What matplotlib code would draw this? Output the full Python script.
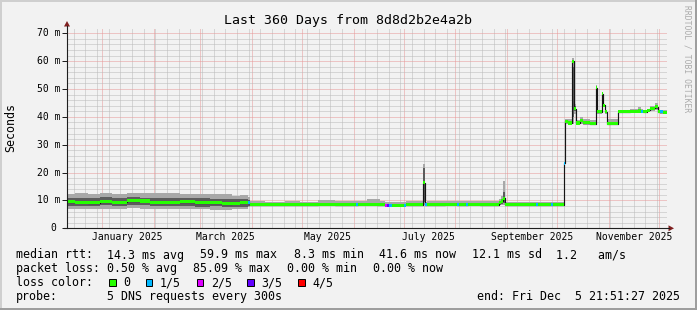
import numpy as np
import matplotlib
matplotlib.use("Agg")
import matplotlib.pyplot as plt
import matplotlib.dates as mdates
import matplotlib.transforms as mtransforms
from matplotlib.ticker import MultipleLocator
from matplotlib.patches import Rectangle, Polygon
from matplotlib.lines import Line2D

plt.rcParams['font.family'] = ['DejaVu Sans Mono']

# ---- data ----
START = np.datetime64("2024-12-10T21:51:27")
SPAN_DAYS = 360

# start of each consolidated step, in days into the 360 day window
seg_day = [
    0.0, 4.8, 12.6, 19.8, 27.0, 36.0, 43.8, 49.8, 58.8, 67.8, 76.8, 85.8, 93.0, 99.0, 103.8, 108.6,
    109.8, 118.8, 130.8, 139.8, 150.6, 160.8, 173.4, 174.6, 180.0, 186.0, 187.8, 190.8, 192.0, 193.2,
    195.0, 202.2, 203.4, 213.6, 215.0, 216.0, 226.8, 234.0, 235.2, 239.4, 240.6, 247.8, 259.2, 260.4,
    261.4, 263.0, 271.8, 281.4, 282.6, 290.4, 291.6, 298.0,
    299.0, 300.6, 303.0, 304.0, 305.2, 307.8, 309.6, 313.8, 317.2, 318.2, 320.8, 321.8, 322.8, 324.2,
    327.0, 330.8, 337.8, 342.6, 344.4, 345.6, 348.0, 349.8, 352.8, 354.8, 355.8, 357.8,
]
# median rtt (ms)
med = [
    9.6, 9.4, 9.2, 9.5, 9.4, 9.9, 9.8, 9.4, 9.3, 9.5, 9.1, 9.2, 8.9, 9.0, 9.3, 9.2,
    8.5, 8.4, 8.5, 8.4, 8.6, 8.5, 8.5, 8.6, 8.7, 8.5, 8.4, 8.2, 8.2, 8.3,
    8.2, 8.3, 8.4, 16.4, 8.5, 8.5, 8.6, 8.5, 8.5, 8.5, 8.6, 8.5, 9.3, 9.8,
    10.8, 8.5, 8.4, 8.4, 8.4, 8.4, 8.4, 23.3,
    38.5, 37.8, 60.0, 43.0, 37.8, 38.6, 37.9, 37.6, 50.4, 41.8, 48.3, 44.2, 41.9, 37.5,
    37.6, 41.9, 42.0, 42.1, 42.0, 41.9, 42.3, 43.1, 43.7, 41.9, 41.8, 41.6,
]
# inner smoke (dark)
in_lo = [
    8.1, 8.0, 8.1, 8.2, 8.0, 8.3, 8.2, 8.0, 7.9, 8.0, 7.8, 7.9, 7.7, 7.8, 7.8, 8.0,
    8.1, 8.0, 8.1, 8.0, 8.2, 8.1, 8.1, 8.2, 8.2, 8.1, 8.0, 7.9, 7.9, 7.9,
    7.9, 7.9, 8.0, 9.5, 8.1, 8.1, 8.2, 8.1, 8.1, 8.1, 8.2, 8.1, 8.5, 8.8,
    9.0, 8.1, 8.0, 8.0, 8.0, 8.0, 8.0, 23.0,
    38.0, 37.3, 40.0, 42.2, 37.3, 38.0, 37.4, 37.2, 46.0, 41.3, 44.0, 43.8, 41.5, 37.1,
    37.2, 41.5, 41.6, 41.6, 41.6, 41.5, 41.9, 42.6, 43.0, 41.5, 41.4, 41.3,
]
in_hi = [
    11.0, 10.9, 10.8, 11.1, 10.9, 11.1, 11.0, 10.8, 10.9, 11.0, 10.7, 10.6, 10.5, 10.4, 10.6, 10.2,
    9.0, 8.9, 9.0, 8.9, 9.1, 9.0, 9.0, 9.1, 9.2, 9.0, 8.9, 8.7, 8.7, 8.8,
    8.7, 8.8, 8.9, 21.5, 9.0, 9.0, 9.1, 9.0, 9.0, 9.0, 9.1, 9.0, 9.8, 10.6,
    13.0, 9.0, 8.9, 8.9, 8.9, 8.9, 8.9, 23.6,
    39.0, 38.4, 58.0, 43.8, 38.4, 39.2, 38.5, 38.2, 51.0, 42.3, 48.5, 44.6, 42.3, 38.1,
    38.2, 42.3, 42.4, 42.6, 42.4, 42.3, 42.7, 43.5, 44.3, 42.3, 42.2, 42.0,
]
# outer smoke (light)
out_lo = [
    6.9, 6.8, 7.0, 7.1, 6.9, 7.2, 7.0, 6.9, 6.8, 7.0, 6.8, 6.7, 6.7, 7.0, 7.1, 7.5,
    8.0, 7.9, 8.0, 7.9, 8.0, 8.0, 8.0, 8.0, 8.0, 8.0, 7.9, 7.8, 7.8, 7.8,
    7.8, 7.8, 7.9, 8.3, 8.0, 8.0, 8.0, 8.0, 8.0, 8.0, 8.0, 8.0, 8.2, 8.3,
    8.3, 8.0, 7.9, 7.9, 7.9, 7.9, 7.9, 22.9,
    37.5, 37.0, 37.5, 41.2, 37.1, 37.6, 37.2, 37.0, 40.0, 41.0, 42.0, 43.5, 41.2, 37.0,
    37.0, 41.3, 41.4, 41.4, 41.4, 41.3, 41.6, 42.2, 42.6, 41.3, 41.2, 41.2,
]
out_hi = [
    12.4, 12.6, 12.3, 12.8, 12.3, 12.5, 12.7, 12.5, 12.6, 12.4, 12.3, 12.4, 12.2, 11.7, 11.8, 11.4,
    9.7, 9.5, 9.8, 9.6, 10.0, 9.7, 9.7, 9.9, 10.5, 10.4, 9.7, 9.6, 9.6, 9.6,
    9.6, 9.6, 9.7, 23.2, 9.6, 9.8, 9.8, 9.7, 9.9, 9.8, 9.9, 9.7, 10.4, 11.5,
    17.0, 9.6, 9.4, 9.4, 9.5, 9.4, 9.5, 23.7,
    39.3, 39.1, 61.0, 44.6, 39.0, 39.8, 39.3, 38.9, 51.4, 42.6, 48.8, 44.8, 42.6, 39.2,
    39.4, 42.5, 42.9, 43.4, 43.0, 42.6, 42.9, 43.8, 45.1, 42.6, 42.5, 42.4,
]
# lost pings out of 5
loss = [
    0, 0, 0, 0, 0, 0, 0, 0, 0, 0, 0, 0, 0, 0, 0, 1,
    0, 0, 0, 0, 0, 0, 1, 0, 0, 0, 0, 2, 3, 1,
    0, 1, 0, 0, 1, 0, 0, 1, 0, 1, 0, 0, 0, 0,
    0, 0, 0, 1, 0, 1, 0, 1,
    0, 0, 0, 0, 0, 0, 0, 0, 0, 0, 0, 0, 0, 0,
    0, 0, 0, 0, 1, 0, 0, 0, 0, 0, 1, 0,
]

loss_labels = ["0", "1/5", "2/5", "3/5", "4/5"]
loss_colors = ["#26ff00", "#00b8ff", "#dd00ff", "#6200ff", "#ff0000"]

y_ticks = [0, 10, 20, 30, 40, 50, 60, 70]
y_labels = ["0", "10 m", "20 m", "30 m", "40 m", "50 m", "60 m", "70 m"]
x_label_dates = ["2025-01-16", "2025-03-16", "2025-05-16", "2025-07-16", "2025-09-16", "2025-11-16"]
x_labels = ["January 2025", "March 2025", "May 2025", "July 2025", "September 2025", "November 2025"]

# ---- figure layout in pixels ----
W, H, DPI = 697, 310, 100
BACK = "#f2f2f2"


def fx(px):
    return px / W


def fy(py):
    return 1 - py / H


def to_num(days):
    t = START + (np.asarray(days) * 86400).astype("timedelta64[s]")
    return mdates.date2num(t)


def ext(v):
    return np.append(v, v[-1])


fig = plt.figure(figsize=(W / DPI, H / DPI), dpi=DPI, facecolor=BACK)
ax = fig.add_axes([fx(67), fy(228.3), 600 / W, 200 / H])
ax.set_facecolor(BACK)

edges = to_num(seg_day + [SPAN_DAYS])
med_a = np.array(med)

# smoke
ax.fill_between(edges, ext(out_lo), ext(out_hi), step="post", color="#a8a8a8", lw=0, zorder=2)
ax.fill_between(edges, ext(in_lo), ext(in_hi), step="post", color="#5c5c5c", lw=0, zorder=3)
# median line + loss coloured median
ax.step(edges, ext(med_a), where="post", color="#151515", lw=0.85, zorder=4)
half = 0.55
ax.bar(edges[:-1], 2 * half, width=np.diff(edges), bottom=med_a - half, align="edge",
       color=[loss_colors[i] for i in loss], linewidth=0, zorder=5)

ax.set_xlim(edges[0], edges[-1])
ax.set_ylim(0, 71.8)

ax.xaxis.set_major_locator(mdates.MonthLocator())
ax.xaxis.set_minor_locator(mdates.WeekdayLocator(byweekday=mdates.SU))
ax.yaxis.set_major_locator(MultipleLocator(10))
ax.yaxis.set_minor_locator(MultipleLocator(2))
ax.set_axisbelow(True)
ax.grid(which="minor", color="#bababa", lw=0.72, ls=(0, (1, 1)), snap=True)
ax.grid(which="major", color="#e89898", lw=0.72, ls=(0, (1, 1)), snap=True)
ax.tick_params(which="both", length=0, labelbottom=False, labelleft=False)
ax.tick_params(axis="y", which="major", length=3.6, width=0.72, color="#1f1f1f", direction="out")
for s in ax.spines.values():
    s.set_visible(False)

# axis lines with arrows
fig.add_artist(Line2D([fx(67), fx(67)], [fy(228.3), fy(26)], color="#1f1f1f", lw=0.8))
fig.add_artist(Line2D([fx(64), fx(669)], [fy(228.3), fy(228.3)], color="#1f1f1f", lw=0.8))
fig.add_artist(Polygon([[fx(67), fy(21)], [fx(64), fy(26.5)], [fx(70), fy(26.5)]],
                       closed=True, color="#7f1f1f", lw=0))
fig.add_artist(Polygon([[fx(674), fy(228.3)], [fx(668.5), fy(225.3)], [fx(668.5), fy(231.3)]],
                       closed=True, color="#7f1f1f", lw=0))

# tick labels
xlab_tr = mtransforms.offset_copy(ax.get_xaxis_transform(), fig=fig, x=0, y=-12.2, units="dots")
for d, lab in zip(x_label_dates, x_labels):
    ax.text(mdates.date2num(np.datetime64(d)), 0, lab, transform=xlab_tr,
            ha="center", va="baseline", fontsize=7.05, clip_on=False)
for v, lab in zip(y_ticks, y_labels):
    off = -11 if lab == "0" else -6.3
    tr = mtransforms.offset_copy(ax.get_yaxis_transform(), fig=fig, x=off, y=-3.0, units="dots")
    ax.text(0, v, lab, transform=tr, ha="right", va="baseline", fontsize=7.05, clip_on=False)

# titles
fig.text(fx(348.5), fy(24), "Last 360 Days from 8d8d2b2e4a2b", ha="center", va="baseline", fontsize=9.5)
fig.text(fx(11), fy(128), "Seconds", rotation=90, ha="center", va="center", fontsize=8.4)
fig.text(fx(687.5), fy(58.5), "RRDTOOL / TOBI OETIKER", rotation=270, ha="center", va="center",
         fontsize=5.8, color="#ababab")

# legend block
LS = 8.4
row1 = [(16, "median rtt:"), (107, "14.3 ms avg"), (200, "59.9 ms max"), (294, "8.3 ms min"),
        (379, "41.6 ms now"), (472, "12.1 ms sd"), (556, "1.2   am/s")]
row2 = [(16, "packet loss:"), (107, "0.50 % avg"), (193, "85.09 % max"), (287, "0.00 % min"),
        (372.7, "0.00 % now")]
for x, s in row1:
    fig.text(fx(x), fy(258.5), s, ha="left", va="baseline", fontsize=LS)
for x, s in row2:
    fig.text(fx(x), fy(272.2), s, ha="left", va="baseline", fontsize=LS)

fig.text(fx(16), fy(286), "loss color:", ha="left", va="baseline", fontsize=LS)
sq_x = [109, 145.7, 196.7, 247.3, 298.3]
for i, (lab, col) in enumerate(zip(loss_labels, loss_colors)):
    fig.add_artist(Rectangle((fx(sq_x[i]), fy(285.8)), 6.5 / W, 6.5 / H, facecolor=col,
                             edgecolor="black", lw=0.7))
    fig.text(fx(sq_x[i] + 14.2), fy(286), lab, ha="left", va="baseline", fontsize=LS)

fig.text(fx(16), fy(299.6), "probe:", ha="left", va="baseline", fontsize=LS)
fig.text(fx(107), fy(299.6), "5 DNS requests every 300s", ha="left", va="baseline", fontsize=LS)
fig.text(fx(680), fy(299.6), "end: Fri Dec  5 21:51:27 2025", ha="right", va="baseline", fontsize=LS)

# bevelled frame
fig.add_artist(Rectangle((0, fy(2)), 1, 2 / H, facecolor="#cfcfcf", lw=0))
fig.add_artist(Rectangle((0, 0), 2 / W, 1, facecolor="#cfcfcf", lw=0))
fig.add_artist(Rectangle((0, 0), 1, 2.5 / H, facecolor="#9e9e9e", lw=0))
fig.add_artist(Rectangle((fx(694.5), 0), 2.5 / W, 1, facecolor="#9e9e9e", lw=0))

fig.savefig("out.png", dpi=DPI, facecolor=BACK)
